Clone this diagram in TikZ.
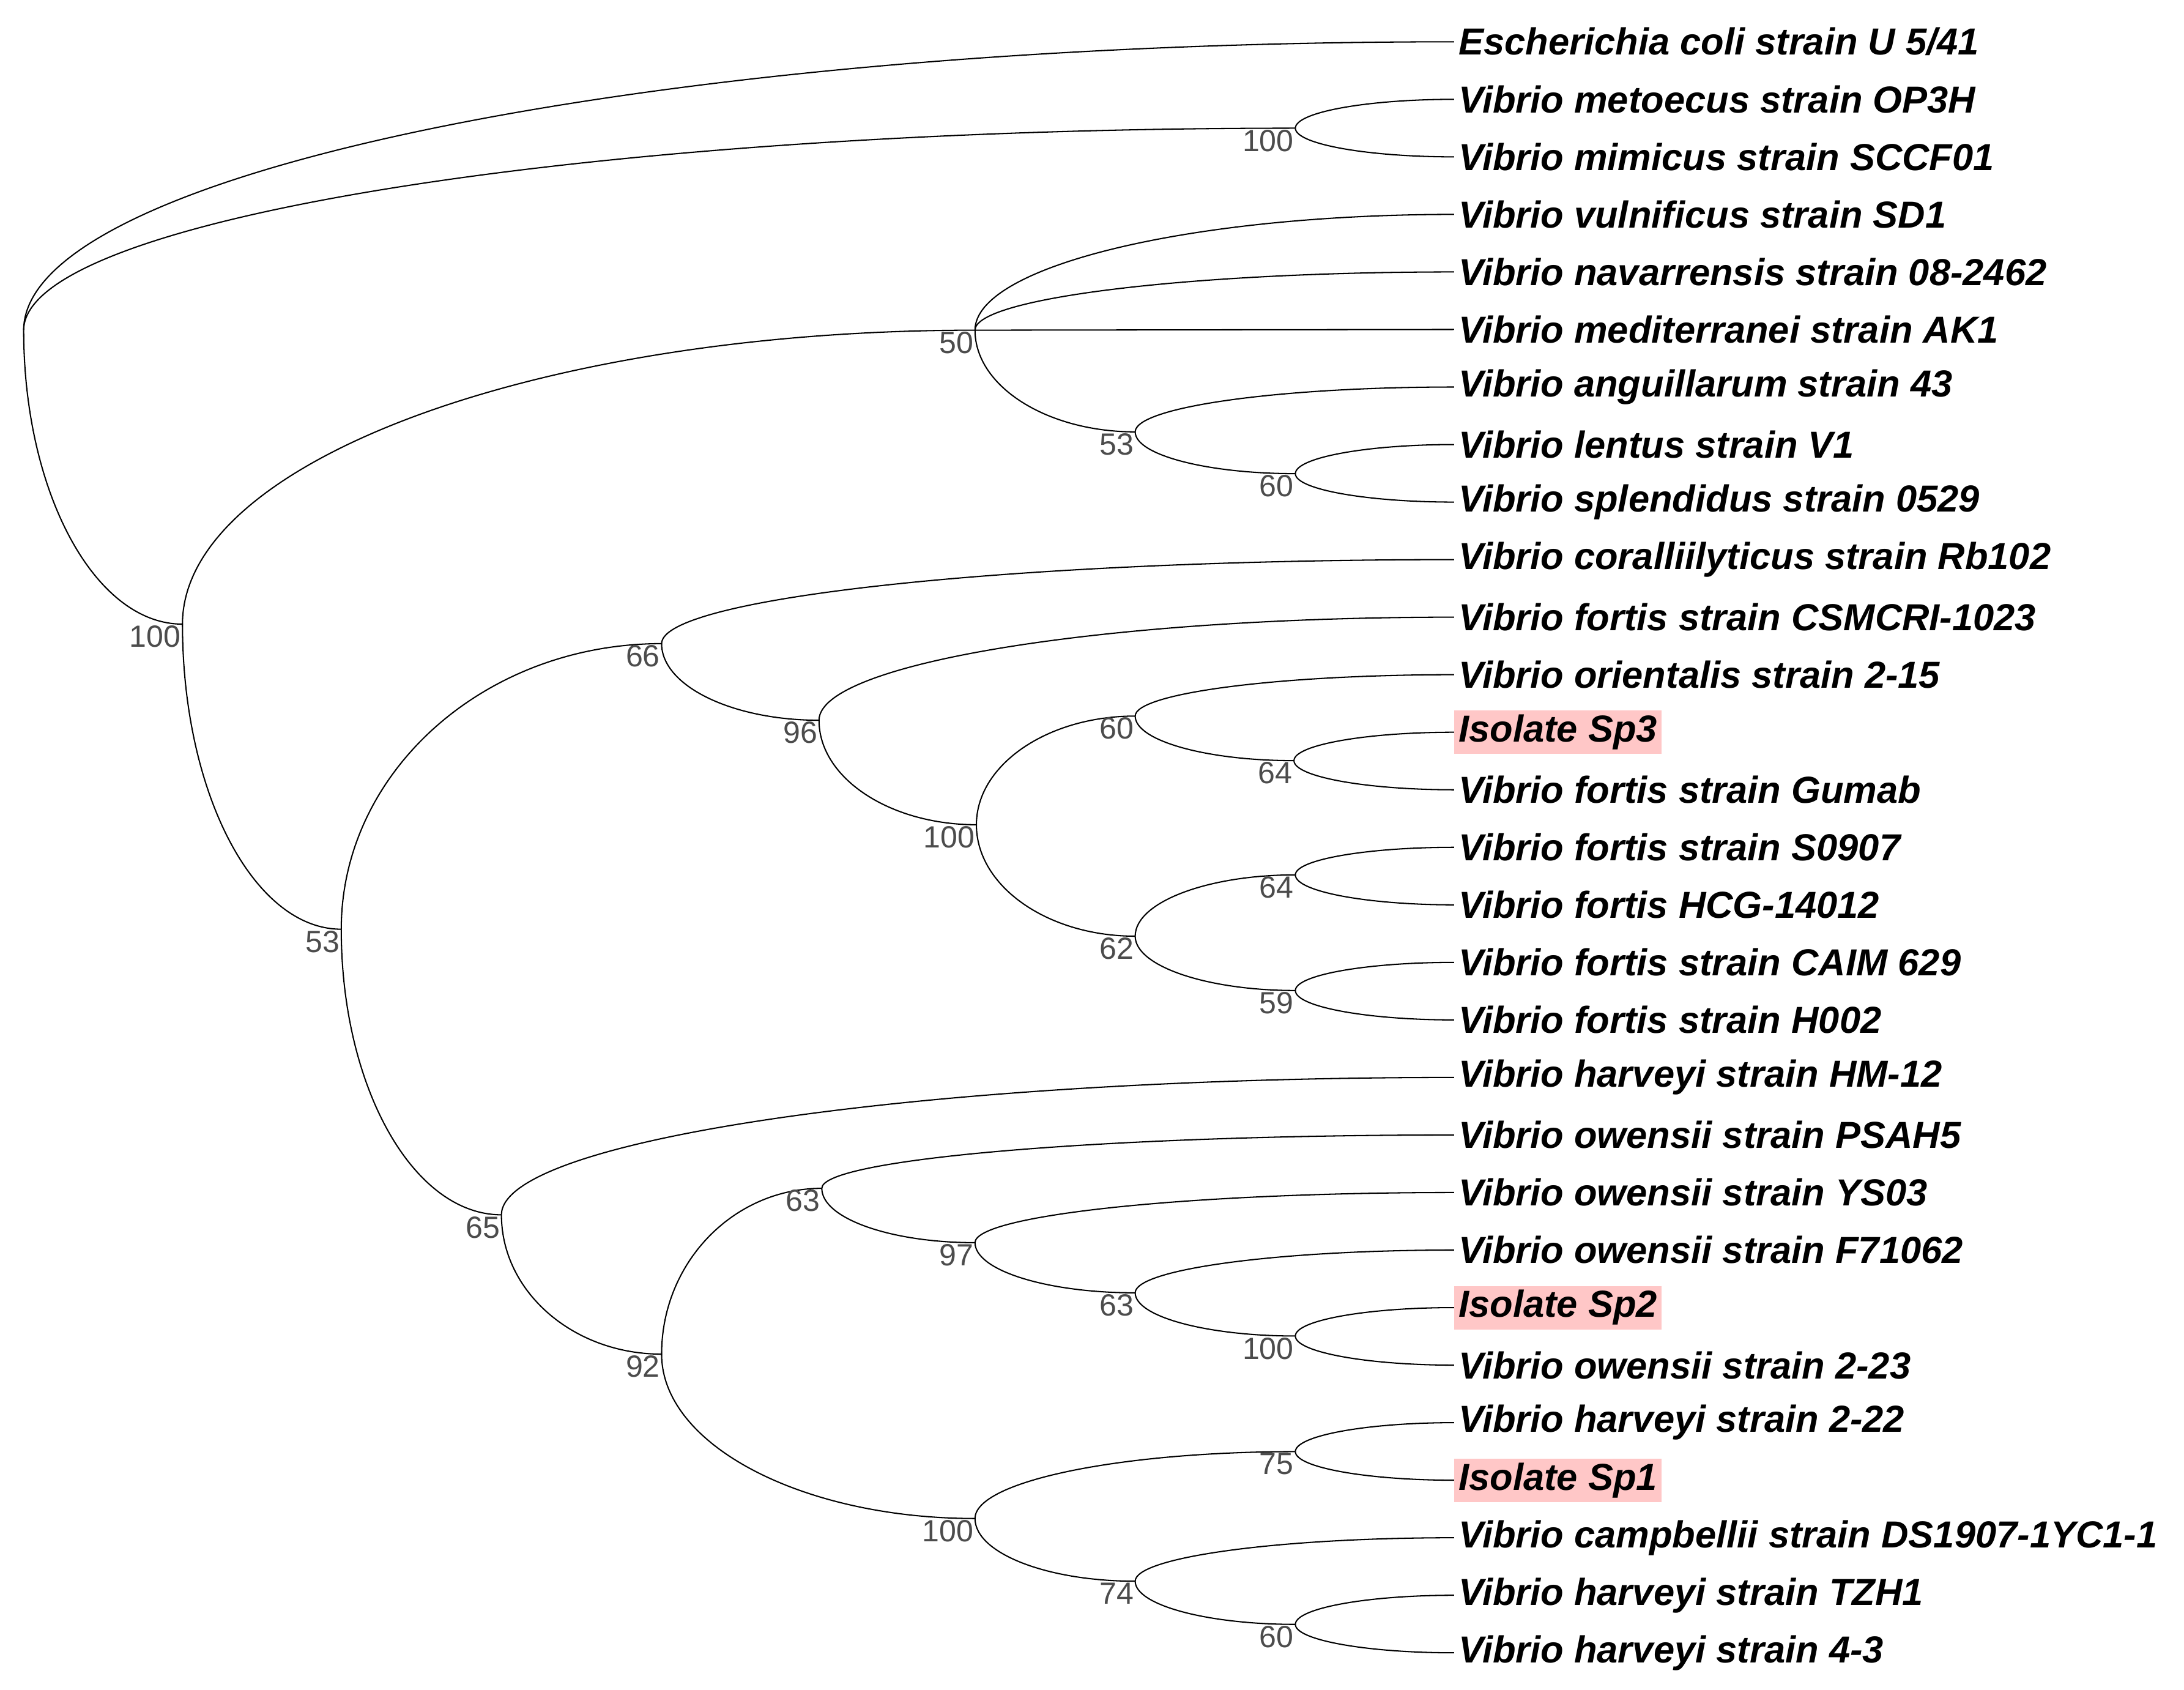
\documentclass[tikz,border=0pt]{standalone}
\usepackage{fontspec}
\setmainfont{Liberation Sans}
\usetikzlibrary{calc}
\begin{document}
\begin{tikzpicture}[x=1pt,y=-1pt,
  edge/.style={line width=0.9pt},
  taxon/.style={anchor=west,inner sep=3pt,font=\fontsize{27}{31}\selectfont\bfseries\itshape},
  isolate/.style={taxon,fill=red!22},
  boot/.style={anchor=north east,inner sep=1pt,text=black!70,font=\fontsize{22}{26}\selectfont}]

  \newcommand\Tx{1044}
  \newcommand\Rw{41.3}
  \newcommand\br[2]{\draw[edge] (#1) .. controls ($(#1)!0.552!(#1 |- #2)$) and ($(#2)!0.552!(#1 |- #2)$) .. (#2);}

  \useasboundingbox (0,0) rectangle (1568,1213);

  %% leaves
  \node[taxon] (ecoli) at (\Tx, 30+0*\Rw) {Escherichia coli strain U 5/41};
  \node[taxon] (metoe) at (\Tx, 30+1*\Rw) {Vibrio metoecus strain OP3H};
  \node[taxon] (mimic) at (\Tx, 30+2*\Rw) {Vibrio mimicus strain SCCF01};
  \node[taxon] (vulni) at (\Tx, 30+3*\Rw) {Vibrio vulnificus strain SD1};
  \node[taxon] (navar) at (\Tx, 30+4*\Rw) {Vibrio navarrensis strain 08-2462};
  \node[taxon] (medit) at (\Tx, 30+5*\Rw) {Vibrio mediterranei strain AK1};
  \node[taxon] (angui) at (\Tx, 30+6*\Rw) {Vibrio anguillarum strain 43};
  \node[taxon] (lentu) at (\Tx, 30+7*\Rw) {Vibrio lentus strain V1};
  \node[taxon] (splen) at (\Tx, 30+8*\Rw) {Vibrio splendidus strain 0529};
  \node[taxon] (coral) at (\Tx, 30+9*\Rw) {Vibrio coralliilyticus strain Rb102};
  \node[taxon] (csmcr) at (\Tx, 30+10*\Rw) {Vibrio fortis strain CSMCRI-1023};
  \node[taxon] (orien) at (\Tx, 30+11*\Rw) {Vibrio orientalis strain 2-15};
  \node[isolate] (sp3) at (\Tx, 30+12*\Rw) {Isolate Sp3};
  \node[taxon] (gumab) at (\Tx, 30+13*\Rw) {Vibrio fortis strain Gumab};
  \node[taxon] (s0907) at (\Tx, 30+14*\Rw) {Vibrio fortis strain S0907};
  \node[taxon] (hcg) at (\Tx, 30+15*\Rw) {Vibrio fortis HCG-14012};
  \node[taxon] (caim) at (\Tx, 30+16*\Rw) {Vibrio fortis strain CAIM 629};
  \node[taxon] (h002) at (\Tx, 30+17*\Rw) {Vibrio fortis strain H002};
  \node[taxon] (hm12) at (\Tx, 30+18*\Rw) {Vibrio harveyi strain HM-12};
  \node[taxon] (psah) at (\Tx, 30+19*\Rw) {Vibrio owensii strain PSAH5};
  \node[taxon] (ys03) at (\Tx, 30+20*\Rw) {Vibrio owensii strain YS03};
  \node[taxon] (f710) at (\Tx, 30+21*\Rw) {Vibrio owensii strain F71062};
  \node[isolate] (sp2) at (\Tx, 30+22*\Rw) {Isolate Sp2};
  \node[taxon] (ow223) at (\Tx, 30+23*\Rw) {Vibrio owensii strain 2-23};
  \node[taxon] (ha222) at (\Tx, 30+24*\Rw) {Vibrio harveyi strain 2-22};
  \node[isolate] (sp1) at (\Tx, 30+25*\Rw) {Isolate Sp1};
  \node[taxon] (campb) at (\Tx, 30+26*\Rw) {Vibrio campbellii strain DS1907-1YC1-1};
  \node[taxon] (tzh1) at (\Tx, 30+27*\Rw) {Vibrio harveyi strain TZH1};
  \node[taxon] (ha43) at (\Tx, 30+28*\Rw) {Vibrio harveyi strain 4-3};

  %% inner nodes
  \coordinate (root) at (17,237);
  \coordinate (nA) at (930,92);
  \coordinate (nB) at (131,448);
  \coordinate (nC) at (700,237);
  \coordinate (nD) at (815,310);
  \coordinate (nE) at (930,340);
  \coordinate (nF) at (245,667);
  \coordinate (nG) at (475,462);
  \coordinate (nH) at (588,517);
  \coordinate (nI) at (701,592);
  \coordinate (nJ) at (815,514);
  \coordinate (nK) at (929,546);
  \coordinate (nL) at (815,672);
  \coordinate (nM) at (930,628);
  \coordinate (nN) at (930,711);
  \coordinate (nO) at (360,872);
  \coordinate (nP) at (475,972);
  \coordinate (nQ) at (590,853);
  \coordinate (nR) at (700,892);
  \coordinate (nS) at (815,928);
  \coordinate (nT) at (930,959);
  \coordinate (nU) at (700,1090);
  \coordinate (nV) at (930,1042);
  \coordinate (nW) at (815,1135);
  \coordinate (nX) at (930,1166);

  %% branches
  \br{root}{ecoli.west} \br{root}{nA} \br{root}{nB}
  \br{nA}{metoe.west} \br{nA}{mimic.west}
  \br{nB}{nC} \br{nB}{nF}
  \br{nC}{vulni.west} \br{nC}{navar.west} \br{nC}{nD}
  \draw[edge] (nC) -- (medit.west);
  \br{nD}{angui.west} \br{nD}{nE}
  \br{nE}{lentu.west} \br{nE}{splen.west}
  \br{nF}{nG} \br{nF}{nO}
  \br{nG}{coral.west} \br{nG}{nH}
  \br{nH}{csmcr.west} \br{nH}{nI}
  \br{nI}{nJ} \br{nI}{nL}
  \br{nJ}{orien.west} \br{nJ}{nK}
  \br{nK}{sp3.west} \br{nK}{gumab.west}
  \br{nL}{nM} \br{nL}{nN}
  \br{nM}{s0907.west} \br{nM}{hcg.west}
  \br{nN}{caim.west} \br{nN}{h002.west}
  \br{nO}{hm12.west} \br{nO}{nP}
  \br{nP}{nQ} \br{nP}{nU}
  \br{nQ}{psah.west} \br{nQ}{nR}
  \br{nR}{ys03.west} \br{nR}{nS}
  \br{nS}{f710.west} \br{nS}{nT}
  \br{nT}{sp2.west} \br{nT}{ow223.west}
  \br{nU}{nV} \br{nU}{nW}
  \br{nV}{ha222.west} \br{nV}{sp1.west}
  \br{nW}{campb.west} \br{nW}{nX}
  \br{nX}{tzh1.west} \br{nX}{ha43.west}

  %% support values
  \node[boot] (bA) at (nA) {100};
  \node[boot] (bB) at (nB) {100};
  \node[boot] (bC) at (nC) {50};
  \node[boot] (bD) at (nD) {53};
  \node[boot] (bE) at (nE) {60};
  \node[boot] (bF) at (nF) {53};
  \node[boot] (bG) at (nG) {66};
  \node[boot] (bH) at (nH) {96};
  \node[boot] (bI) at (nI) {100};
  \node[boot] (bJ) at (nJ) {60};
  \node[boot] (bK) at (nK) {64};
  \node[boot] (bL) at (nL) {62};
  \node[boot] (bM) at (nM) {64};
  \node[boot] (bN) at (nN) {59};
  \node[boot] (bO) at (nO) {65};
  \node[boot] (bP) at (nP) {92};
  \node[boot] (bQ) at (nQ) {63};
  \node[boot] (bR) at (nR) {97};
  \node[boot] (bS) at (nS) {63};
  \node[boot] (bT) at (nT) {100};
  \node[boot] (bU) at (nU) {100};
  \node[boot] (bV) at (nV) {75};
  \node[boot] (bW) at (nW) {74};
  \node[boot] (bX) at (nX) {60};
\end{tikzpicture}
\end{document}
